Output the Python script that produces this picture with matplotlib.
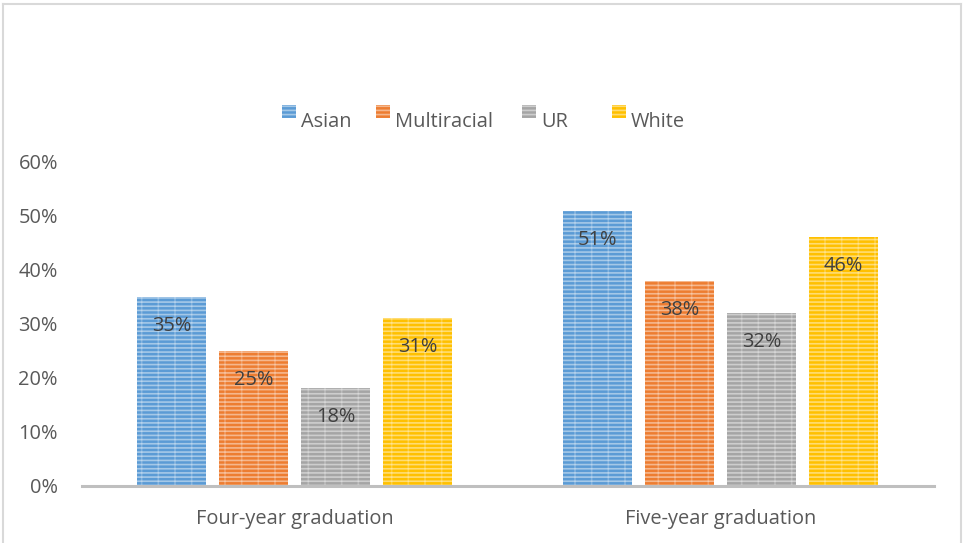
import matplotlib.pyplot as plt
from matplotlib.lines import Line2D
from matplotlib.patches import Rectangle
import numpy as np

plt.rcParams['font.family'] = ['Open Sans', 'DejaVu Sans']
plt.rcParams['hatch.linewidth'] = 1.2

# graduation rates by group
categories = ['Four-year graduation', 'Five-year graduation']
groups = ['Asian', 'Multiracial', 'UR', 'White']
rates = {
    'Asian': [0.35, 0.51],
    'Multiracial': [0.25, 0.38],
    'UR': [0.18, 0.32],
    'White': [0.31, 0.46],
}
colors = {'Asian': '#5B9BD5', 'Multiracial': '#ED7D31', 'UR': '#A5A5A5', 'White': '#FFC000'}
yticks = [0, 0.1, 0.2, 0.3, 0.4, 0.5, 0.6]
FS = 14.4

W, H = 963, 543
fig = plt.figure(figsize=(W / 100, H / 100), dpi=100)
ax = fig.add_axes([81.5 / W, (H - 485.5) / H, 852 / W, 323.5 / H])

x = np.arange(len(categories))
width = 0.16
step = 0.1925

for i, g in enumerate(groups):
    pos = x + (i - 1.5) * step
    vals = rates[g]
    ax.bar(pos, vals, width, color=colors[g], linewidth=0, zorder=2)
    # striped fill
    ax.bar(pos, vals, width, facecolor='none', edgecolor=(1, 1, 1, 0.45),
           hatch='----', linewidth=0, zorder=3)
    ax.bar(pos, vals, width, facecolor='none', edgecolor=(1, 1, 1, 0.25),
           hatch='|', linewidth=0, zorder=3)
    for xp, v in zip(pos, vals):
        ax.annotate(f'{round(v * 100):d}%', (xp, v), xytext=(0, -29),
                    textcoords='offset pixels', ha='center', va='center',
                    fontsize=FS, color='#404040', zorder=4)

ax.set_xlim(-0.5, 1.5)
ax.set_ylim(0, 0.6)
ax.set_yticks(yticks)
ax.set_yticklabels([f'{round(t * 100):d}%' for t in yticks])
ax.set_xticks(x)
ax.set_xticklabels(categories)
ax.tick_params(axis='both', length=0, labelsize=FS, labelcolor='#595959')
ax.tick_params(axis='y', pad=17)
ax.tick_params(axis='x', pad=17)
for s in ['top', 'right', 'left']:
    ax.spines[s].set_visible(False)
ax.spines['bottom'].set_color('#BFBFBF')
ax.spines['bottom'].set_linewidth(2.2)
ax.spines['bottom'].set_zorder(5)

# legend across the top
leg_x = [282, 376, 522, 612]
for g, lx in zip(groups, leg_x):
    fig.patches.append(Rectangle((lx / W, (H - 118) / H), 14 / W, 13 / H,
                                 transform=fig.transFigure, facecolor=colors[g],
                                 edgecolor='none'))
    fig.patches.append(Rectangle((lx / W, (H - 118) / H), 14 / W, 13 / H,
                                 transform=fig.transFigure, facecolor='none',
                                 edgecolor=(1, 1, 1, 0.45), hatch='----', linewidth=0))
    fig.text((lx + 19) / W, (H - 122) / H, g, ha='left', va='center',
             fontsize=FS, color='#595959')

# chart area border
bc = '#D9D9D9'
fig.add_artist(Line2D([2.5 / W, 2.5 / W], [0, (H - 3.5) / H], color=bc, lw=1.5))
fig.add_artist(Line2D([2.5 / W, 961 / W], [(H - 3.5) / H, (H - 3.5) / H], color=bc, lw=1.5))
fig.add_artist(Line2D([961 / W, 961 / W], [0, (H - 3.5) / H], color=bc, lw=1.5))

fig.savefig('out.png', dpi=100)
